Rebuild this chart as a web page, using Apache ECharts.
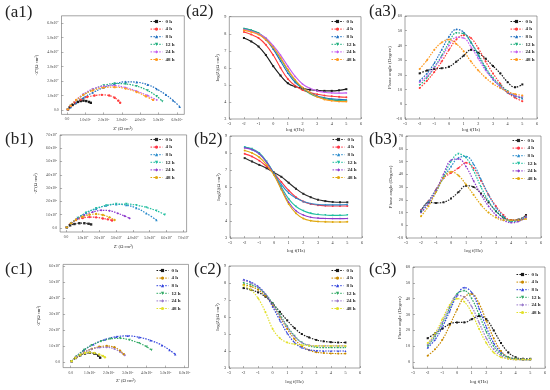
<!DOCTYPE html>
<html><head><meta charset="utf-8">
<script src="https://cdn.jsdelivr.net/npm/echarts@6/dist/echarts.min.js"></script>
<style>html,body{margin:0;padding:0;background:#fff}#c{width:550px;height:390px}</style>
</head><body><div id="c"></div>
<script>
// ---------------- DATA ----------------
const seriesNames = ['0 h','4 h','8 h','12 h','24 h','48 h'];
const logF = [-2,-1.5,-1,-0.5,0,0.5,1,1.5,2,2.5,3,3.5,4,4.5,5];

const bodeXTicks = [-3,-2,-1,0,1,2,3,4,5,6];
const modTicks = [3,4,5,6,7,8,9];
const phaseTicksA = [-10,0,10,20,30,40,50,60];
const phaseTicksB = [-10,0,10,20,30,40,50,60,70];
const phaseTicksC = [0,10,20,30,40,50,60];
const nyqTicksA = [0,1,2,3,4,5,6];
const nyqTicksB = [0,1,2,3,4,5,6,7];
const nyqTicksC = [0,1,2,3,4,5,6];

// Nyquist (units of 1e5 ohm cm2): Z' and -Z''
const a1Re = [
 [0.05,0.15,0.3,0.45,0.6,0.75,0.9,1.05,1.2,1.3],
 [0.05,0.2,0.45,0.75,1.1,1.5,1.9,2.3,2.6,2.8,2.9],
 [0.05,0.2,0.5,0.9,1.4,2.0,2.6,3.2,3.8,4.4,4.9,5.4,5.8,6.15],
 [0.05,0.2,0.5,0.9,1.4,2.0,2.6,3.2,3.8,4.4,4.9,5.2],
 [0.05,0.2,0.5,0.9,1.4,2.0,2.6,3.2,3.8,4.4,4.9],
 [0.05,0.2,0.5,0.9,1.4,2.0,2.6,3.2,3.8,4.3,4.7]];
const a1Im = [
 [0.05,0.2,0.35,0.47,0.56,0.62,0.65,0.62,0.56,0.5],
 [0.05,0.25,0.5,0.72,0.9,1.0,1.05,1.0,0.85,0.65,0.5],
 [0.05,0.2,0.5,0.85,1.2,1.55,1.8,1.95,1.92,1.75,1.45,1.05,0.65,0.23],
 [0.05,0.3,0.65,1.05,1.4,1.7,1.83,1.8,1.65,1.35,0.95,0.6],
 [0.05,0.3,0.7,1.1,1.45,1.65,1.68,1.55,1.3,1.0,0.7],
 [0.05,0.3,0.7,1.05,1.35,1.55,1.58,1.48,1.25,0.95,0.7]];

const b1Re = [
 [0.05,0.25,0.5,0.8,1.1,1.35,1.5],
 [0.05,0.3,0.6,1.0,1.4,1.8,2.2,2.5,2.75],
 [0.05,0.3,0.7,1.2,1.8,2.4,3.0,3.6,4.2,4.8,5.4],
 [0.05,0.3,0.7,1.2,1.8,2.4,3.0,3.6,4.2,4.8,5.4,5.9],
 [0.05,0.3,0.7,1.1,1.6,2.1,2.6,3.1,3.5,3.8],
 [0.05,0.3,0.6,1.0,1.4,1.8,2.2,2.6,2.9]];
const b1Im = [
 [0.05,0.2,0.3,0.36,0.36,0.32,0.27],
 [0.05,0.35,0.6,0.75,0.82,0.8,0.72,0.65,0.57],
 [0.05,0.35,0.75,1.15,1.45,1.68,1.78,1.72,1.5,1.1,0.6],
 [0.05,0.35,0.75,1.15,1.48,1.7,1.8,1.8,1.72,1.55,1.3,1.0],
 [0.05,0.35,0.7,0.98,1.2,1.33,1.3,1.1,0.9,0.73],
 [0.05,0.35,0.62,0.85,1.0,1.05,0.98,0.8,0.6]];

const c1Re = [
 [0.05,0.25,0.5,0.75,1.0,1.25,1.45,1.55],
 [0.05,0.3,0.7,1.1,1.5,1.9,2.3,2.6,2.8],
 [0.05,0.3,0.7,1.2,1.8,2.4,3.0,3.6,4.2,4.8,5.2,5.5],
 [0.05,0.3,0.7,1.1,1.6,2.1,2.6,3.1,3.6,4.0,4.25],
 [0.05,0.3,0.7,1.1,1.5,1.9,2.3,2.6,2.85],
 [0.05,0.25,0.5,0.75,1.0,1.25,1.5,1.7,1.8]];
const c1Im = [
 [0.05,0.25,0.42,0.53,0.58,0.52,0.4,0.27],
 [0.05,0.3,0.6,0.82,0.95,1.0,0.92,0.7,0.48],
 [0.05,0.35,0.75,1.1,1.4,1.58,1.63,1.55,1.35,1.05,0.75,0.48],
 [0.05,0.35,0.75,1.05,1.3,1.45,1.48,1.38,1.18,0.95,0.75],
 [0.05,0.33,0.6,0.8,0.9,0.92,0.82,0.62,0.42],
 [0.05,0.27,0.45,0.56,0.6,0.56,0.47,0.38,0.3]];

// Bode modulus log|Z| vs logF
const a2LogZ = [
 [7.75,7.55,7.25,6.75,6.1,5.55,5.1,4.9,4.8,4.72,4.68,4.65,4.65,4.68,4.75],
 [8.1,7.95,7.75,7.35,6.75,6.0,5.35,4.95,4.7,4.55,4.45,4.38,4.33,4.3,4.28],
 [8.3,8.2,8.0,7.65,7.1,6.4,5.7,5.15,4.8,4.55,4.35,4.25,4.18,4.15,4.13],
 [8.3,8.2,8.05,7.7,7.2,6.55,5.85,5.25,4.8,4.5,4.3,4.2,4.12,4.08,4.07],
 [8.25,8.15,8.0,7.75,7.3,6.75,6.1,5.5,5.05,4.8,4.65,4.57,4.53,4.52,4.53],
 [8.2,8.1,7.95,7.65,7.2,6.6,5.9,5.3,4.85,4.55,4.3,4.15,4.07,4.03,4.02]];
const b2LogZ = [
 [7.7,7.5,7.3,7.1,6.85,6.6,6.25,5.9,5.6,5.4,5.25,5.17,5.12,5.1,5.1],
 [7.95,7.8,7.55,7.2,6.8,6.3,5.8,5.4,5.15,5.0,4.93,4.9,4.88,4.88,4.88],
 [8.35,8.2,7.95,7.45,6.8,6.15,5.65,5.35,5.15,5.03,4.97,4.95,4.95,4.95,4.97],
 [8.35,8.25,8.0,7.5,6.8,6.0,5.3,4.85,4.6,4.45,4.38,4.35,4.33,4.33,4.35],
 [8.3,8.2,7.95,7.45,6.75,5.9,5.1,4.6,4.35,4.22,4.17,4.15,4.14,4.14,4.15],
 [8.15,8.0,7.75,7.3,6.7,5.85,5.0,4.45,4.15,4.02,3.97,3.95,3.94,3.94,3.95]];
const c2LogZ = [
 [7.7,7.6,7.45,7.2,6.8,6.3,5.8,5.35,5.0,4.8,4.65,4.57,4.52,4.5,4.5],
 [7.9,7.8,7.6,7.25,6.7,6.0,5.3,4.7,4.3,4.05,3.93,3.88,3.86,3.85,3.85],
 [8.2,8.05,7.8,7.35,6.6,5.8,5.05,4.5,4.2,4.07,4.02,4.0,4.0,4.0,4.0],
 [8.0,7.9,7.7,7.35,6.8,6.15,5.45,4.9,4.5,4.3,4.22,4.2,4.2,4.2,4.2],
 [8.15,8.0,7.75,7.35,6.75,6.05,5.4,4.85,4.5,4.35,4.3,4.3,4.3,4.3,4.3],
 [7.85,7.6,7.1,6.3,5.3,4.75,4.5,4.4,4.35,4.32,4.3,4.3,4.3,4.3,4.3]];

// Bode phase angle (degree) vs logF
const a3Phase = [
 [21,23,24,24.5,25.5,29,33,37,35,31,26,21,15,11.5,13.5],
 [11,16,22,29,37,44,47,45,38,29,21,14,8,4.5,2],
 [16,21,28,37,46,51,49,42,33,24,17,12,8,5.5,4],
 [13,18,25,33,42,48.5,48,42,34,25,18,13,9,6,4.5],
 [15,19,25,32,40,45.5,45,39,31,23,17,12,8.5,6,5],
 [24,30,37,42,44,41,36,29,23,18,14,11,8.5,7,6]];
const b3Phase = [
 [11,18,17.5,18,21,26,31,30,25,18,11,6,4,4.5,8],
 [12,19,28,37,41,45,49,45,35,24,15,8,4,4,7],
 [12,19,28,37,46,53,54,48,36,24,14,7,3,4,7],
 [10,17,26,38,50,56,53,43,30,19,11,6,3,3.5,6],
 [10,17,27,40,51,52,46,35,24,15,8,4,2,3,6],
 [7,15,26,37,42,39,32,24,16,10,6,4,4,4,5]];
const c3Phase = [
 [15,18,21,24,25,25,27,29,27,20,12,6,3,2,2],
 [4,8,14,23,33,41,43,37,26,15,7,3,2,1.5,1.5],
 [9,14,22,32,42,47,44,34,22,12,6,3,2,1.5,1.5],
 [10,16,24,34,43,45,40,30,19,10,5,3,2,1.5,1.5],
 [11,17,25,35,42,41,35,25,15,8,4,2,1.5,1.5,1.5],
 [12,18,27,36,40,38,31,21,12,6,3,2,1.5,1.5,1.5]];

// ---------------- STYLE / LAYOUT ----------------
const colA = ['#1a1a1a','#ff3b3b','#1f6fc0','#1fae7e','#c45cf0','#ff9a1f'];
const colB = ['#2a2a2a','#ff3344','#2a8ccc','#22bfa0','#8e3bcc','#e0a810'];
const colC = ['#1a1a1a','#c98a00','#3344dd','#33aa66','#9a7acc','#e2e02a'];
const syms = ['rect','circle','triangle','triangle','diamond','circle'];
const symRot = [0,0,0,180,0,0];
const FONT = 'Liberation Serif';

const panels = [
 {lab:'(a1)', labPos:[5,4], kind:'nyq', re:a1Re, im:a1Im, col:colA,
  g:{left:61.5,top:15.8,width:122.8,height:98.6}, x:[-0.3,6.4,nyqTicksA], y:[-0.3,6.5,nyqTicksA],
  xg:11.5, yg:22, leg:[150,19], dash:true},
 {lab:'(a2)', labPos:[186,3], kind:'mod', vals:a2LogZ, col:colA,
  g:{left:229.3,top:16.7,width:131.7,height:102.3}, x:[-3,6,bodeXTicks], y:[3,9,modTicks],
  xg:7, yg:7, leg:[331,19], dash:false},
 {lab:'(a3)', labPos:[369,3], kind:'ph', vals:a3Phase, col:colA,
  g:{left:405,top:16,width:132,height:103}, x:[-3,6,bodeXTicks], y:[-10,60,phaseTicksA],
  xg:7, yg:10, leg:[510,19], dash:true},
 {lab:'(b1)', labPos:[5,131], kind:'nyq', re:b1Re, im:b1Im, col:colB,
  g:{left:60.1,top:134.9,width:126.5,height:97.1}, x:[-0.35,7.2,nyqTicksB], y:[-0.3,7.0,nyqTicksB],
  xg:12, yg:22, leg:[150,137], dash:true},
 {lab:'(b2)', labPos:[194,131], kind:'mod', vals:b2LogZ, col:colB,
  g:{left:230,top:136,width:132,height:102}, x:[-3,6,bodeXTicks], y:[3,9,modTicks],
  xg:10, yg:8, leg:[332,137], dash:false},
 {lab:'(b3)', labPos:[369,131], kind:'ph', vals:b3Phase, col:colB,
  g:{left:406,top:136,width:135,height:102}, x:[-3,6,bodeXTicks], y:[-10,70,phaseTicksB],
  xg:10, yg:6, leg:[512,138], dash:true},
 {lab:'(c1)', labPos:[5,261], kind:'nyq', re:c1Re, im:c1Im, col:colC,
  g:{left:63.1,top:264.4,width:125.4,height:103.2}, x:[-0.4,6.2,nyqTicksC], y:[-0.35,6.1,nyqTicksC],
  xg:11, yg:22, leg:[156,268], dash:true},
 {lab:'(c2)', labPos:[194,261], kind:'mod', vals:c2LogZ, col:colC,
  g:{left:229,top:266,width:131,height:102}, x:[-3,6,bodeXTicks], y:[3,9,modTicks],
  xg:11, yg:8, leg:[331,268], dash:true},
 {lab:'(c3)', labPos:[369,261], kind:'ph', vals:c3Phase, col:colC,
  g:{left:413,top:267,width:132,height:101.3}, x:[-3,6,bodeXTicks], y:[-4,60,phaseTicksC],
  xg:11, yg:10, leg:[516,272], dash:true}
];

const nyqFmt = v => v === 0 ? '0.0' : v.toFixed(1) + 'x10{s|5}';
const richSup = {s:{fontSize:2.6, fontFamily:FONT, color:'#333', padding:[0,0,2.5,0]}};

const grids=[], xAxes=[], yAxes=[], series=[], legends=[], graphics=[];
panels.forEach((p,pi)=>{
  grids.push(Object.assign({show:true, borderColor:'#666', borderWidth:0.6, containLabel:false}, p.g));
  const isN = p.kind==='nyq';
  const axBase = (r, fmt) => ({
    type:'value', gridIndex:pi, min:r[0], max:r[1],
    axisLine:{show:false, onZero:false},
    splitLine:{show:false},
    axisTick:{show:true, inside:true, length:2, customValues:r[2], lineStyle:{color:'#666', width:0.5}},
    axisLabel:{customValues:r[2], fontSize:isN?3.6:4.2, fontFamily:FONT, color:'#333', margin:3,
      formatter: fmt, rich: richSup, hideOverlap:false},
    nameTextStyle:{fontSize:isN?4.6:5, fontFamily:FONT, color:'#333'}
  });
  const xa = axBase(p.x, isN ? nyqFmt : (v=>String(v)));
  xa.name = isN ? "Z' (Ω cm²)" : 'log f(Hz)';
  xa.nameLocation='middle'; xa.nameGap=p.xg;
  const ya = axBase(p.y, isN ? nyqFmt : (v=>String(v)));
  ya.name = isN ? "-Z''(Ω cm²)" : (p.kind==='mod' ? 'log|Z|(Ω cm²)' : 'Phase angle (Degree)');
  ya.nameLocation='middle'; ya.nameGap=p.yg;
  xAxes.push(xa); yAxes.push(ya);

  seriesNames.forEach((nm,si)=>{
    let data;
    if (isN) data = p.re[si].map((v,k)=>[v, p.im[si][k]]);
    else data = logF.map((f,k)=>[f, p.vals[si][k]]);
    series.push({
      type:'line', name:nm, xAxisIndex:pi, yAxisIndex:pi, data:data,
      smooth:0.4, symbol:syms[si], symbolRotate:symRot[si],
      symbolSize: isN ? 2.4 : 2, showSymbol:true,
      lineStyle:{width: p.dash ? 1.2 : 1.1, color:p.col[si], type: p.dash ? [1.6,1.3] : 'solid'},
      itemStyle:{color:p.col[si]},
      emphasis:{disabled:true}, animation:false
    });
  });

  legends.push({
    orient:'vertical', left:p.leg[0], top:p.leg[1], padding:0,
    itemWidth:12, itemHeight:4, itemGap:2.6,
    textStyle:{fontSize:5, fontWeight:'bold', fontFamily:FONT, color:'#222', padding:[0,0,0,-2]},
    selectedMode:false,
    data: seriesNames.map((nm,si)=>({name:nm, itemStyle:{color:p.col[si]}, lineStyle:{color:p.col[si], width:1}}))
  });

  graphics.push({type:'text', left:p.labPos[0], top:p.labPos[1],
    style:{text:p.lab, font:'17px "Liberation Serif"', fill:'#222'}});
});

const chart = echarts.init(document.getElementById('c'), null, {renderer:'canvas'});
chart.setOption({
  animation:false,
  backgroundColor:'#fff',
  grid:grids, xAxis:xAxes, yAxis:yAxes, series:series, legend:legends, graphic:graphics
});
</script>
</body></html>
